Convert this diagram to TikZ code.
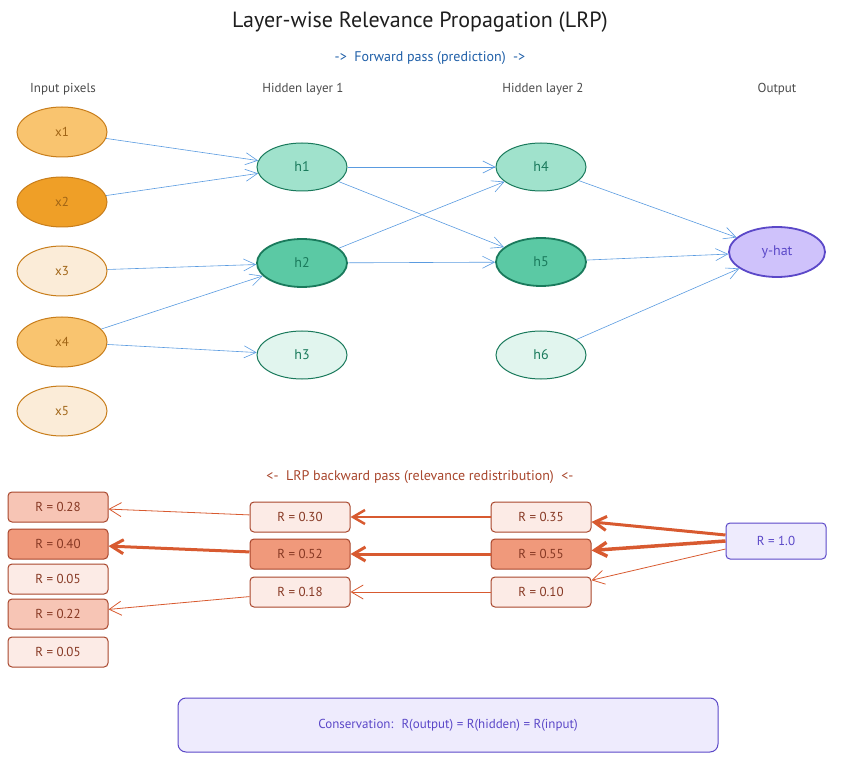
\documentclass[tikz,border=0pt]{standalone}
\usepackage{fontspec}
\setmainfont{PT Sans}
\usetikzlibrary{shapes.geometric,arrows.meta}
\definecolor{ostroke}{HTML}{C87D1A}
\definecolor{omid}{HTML}{F9C46F}
\definecolor{odark}{HTML}{EF9F27}
\definecolor{olight}{HTML}{FBECD8}
\definecolor{gstroke}{HTML}{1A7A5C}
\definecolor{gmid}{HTML}{A0E2CC}
\definecolor{gdark}{HTML}{5BC9A4}
\definecolor{glight}{HTML}{E1F5EE}
\definecolor{pfill}{HTML}{CFC2FB}
\definecolor{pstroke}{HTML}{5B48C8}
\definecolor{plight}{HTML}{EEEBFD}
\definecolor{rstroke}{HTML}{A8462C}
\definecolor{rmid}{HTML}{F7C5B5}
\definecolor{rdark}{HTML}{F0997B}
\definecolor{rlight}{HTML}{FCEBE6}
\definecolor{rarrow}{HTML}{D85A30}
\definecolor{barrow}{HTML}{5A9BE0}
\definecolor{titlec}{HTML}{1E1E1E}
\definecolor{fwd}{HTML}{1F5FA8}
\begin{document}
\begin{tikzpicture}[x=1pt,y=-1pt,
  inp/.style={ellipse,draw=ostroke,line width=1pt,minimum width=90pt,minimum height=50pt,text=ostroke!80!black,font=\fontsize{13}{15}\selectfont},
  hid/.style={ellipse,draw=gstroke,line width=1pt,minimum width=90pt,minimum height=48pt,text=gstroke,font=\fontsize{14}{16}\selectfont},
  lab/.style={text=titlec!80,font=\fontsize{13}{15}\selectfont},
  rbox/.style={draw=rstroke,line width=1pt,rounded corners=4pt,minimum width=100pt,minimum height=30pt,text=rstroke!80!black,font=\fontsize{13}{15}\selectfont},
  fa/.style={draw=barrow,line width=0.6pt,-{Straight Barb[length=12pt,width=12pt]}},
  ba/.style={draw=rarrow,-{Straight Barb[length=12pt,width=14pt]}}]
\useasboundingbox (0,0) rectangle (844,770);
\node[font=\fontsize{22}{26}\selectfont,text=titlec] (title) at (420,22) {Layer-wise Relevance Propagation (LRP)};
\node[font=\fontsize{14}{16}\selectfont,text=fwd] (fsub) at (430,58) {-> \ Forward pass (prediction) \ ->};
\node[lab] (l1) at (63,89) {Input pixels};
\node[lab] (l2) at (303,89) {Hidden layer 1};
\node[lab] (l3) at (543,89) {Hidden layer 2};
\node[lab] (l4) at (777,89) {Output};
\node[inp,fill=omid] (x1) at (62,132) {x1};
\node[inp,fill=odark] (x2) at (62,202) {x2};
\node[inp,fill=olight] (x3) at (62,271) {x3};
\node[inp,fill=omid] (x4) at (62,342) {x4};
\node[inp,fill=olight] (x5) at (62,411) {x5};
\node[hid,fill=gmid] (h1) at (302,167) {h1};
\node[hid,fill=gdark,line width=1.8pt] (h2) at (302,263) {h2};
\node[hid,fill=glight] (h3) at (302,355) {h3};
\node[hid,fill=gmid] (h4) at (541,167) {h4};
\node[hid,fill=gdark,line width=1.8pt] (h5) at (541,262) {h5};
\node[hid,fill=glight] (h6) at (541,355) {h6};
\node[ellipse,draw=pstroke,line width=1.8pt,fill=pfill,minimum width=96pt,minimum height=50pt,text=pstroke,font=\fontsize{14}{16}\selectfont] (y) at (777,252) {y-hat};
\draw[fa] (x1) -- (h1); \draw[fa] (x2) -- (h1);
\draw[fa] (x3) -- (h2); \draw[fa] (x4) -- (h2); \draw[fa] (x4) -- (h3);
\draw[fa] (h1) -- (h4); \draw[fa] (h1) -- (h5);
\draw[fa] (h2) -- (h4); \draw[fa] (h2) -- (h5);
\draw[fa] (h4) -- (y); \draw[fa] (h5) -- (y); \draw[fa] (h6) -- (y);
\node[font=\fontsize{14}{16}\selectfont,text=rstroke] (bsub) at (420,477) {<- \ LRP backward pass (relevance redistribution) \ <-};
\node[rbox,fill=rmid] (a1) at (58,507) {R = 0.28};
\node[rbox,fill=rdark] (a2) at (58,544) {R = 0.40};
\node[rbox,fill=rlight] (a3) at (58,579) {R = 0.05};
\node[rbox,fill=rmid] (a4) at (58,614) {R = 0.22};
\node[rbox,fill=rlight] (a5) at (58,652) {R = 0.05};
\node[rbox,fill=rlight] (b1) at (300,517) {R = 0.30};
\node[rbox,fill=rdark] (b2) at (300,554) {R = 0.52};
\node[rbox,fill=rlight] (b3) at (300,592) {R = 0.18};
\node[rbox,fill=rlight] (c1) at (541,517) {R = 0.35};
\node[rbox,fill=rdark] (c2) at (541,554) {R = 0.55};
\node[rbox,fill=rlight] (c3) at (541,592) {R = 0.10};
\node[rbox,draw=pstroke,fill=plight,minimum height=36pt,text=pstroke] (r) at (776,541) {R = 1.0};
\draw[ba,line width=3pt] (r.west) ++(0,-6) coordinate (r1) -- (c1);
\draw[ba,line width=3.5pt] (r.west) -- (c2);
\draw[ba,line width=0.8pt] (r.west) ++(0,8) coordinate (r3) -- (c3);
\draw[ba,line width=2.5pt] (c1) -- (b1);
\draw[ba,line width=3pt] (c2) -- (b2);
\draw[ba,line width=0.8pt] (c3) -- (b3);
\draw[ba,line width=0.8pt] (b1) -- (a1);
\draw[ba,line width=3pt] (b2) -- (a2);
\draw[ba,line width=0.8pt] (b3) -- (a4);
\node[draw=pstroke,line width=1pt,fill=plight,rounded corners=8pt,minimum width=540pt,minimum height=54pt,text=pstroke,font=\fontsize{13}{15}\selectfont] (cons) at (448,725) {Conservation: \ R(output) = R(hidden) = R(input)};
\end{tikzpicture}
\end{document}
